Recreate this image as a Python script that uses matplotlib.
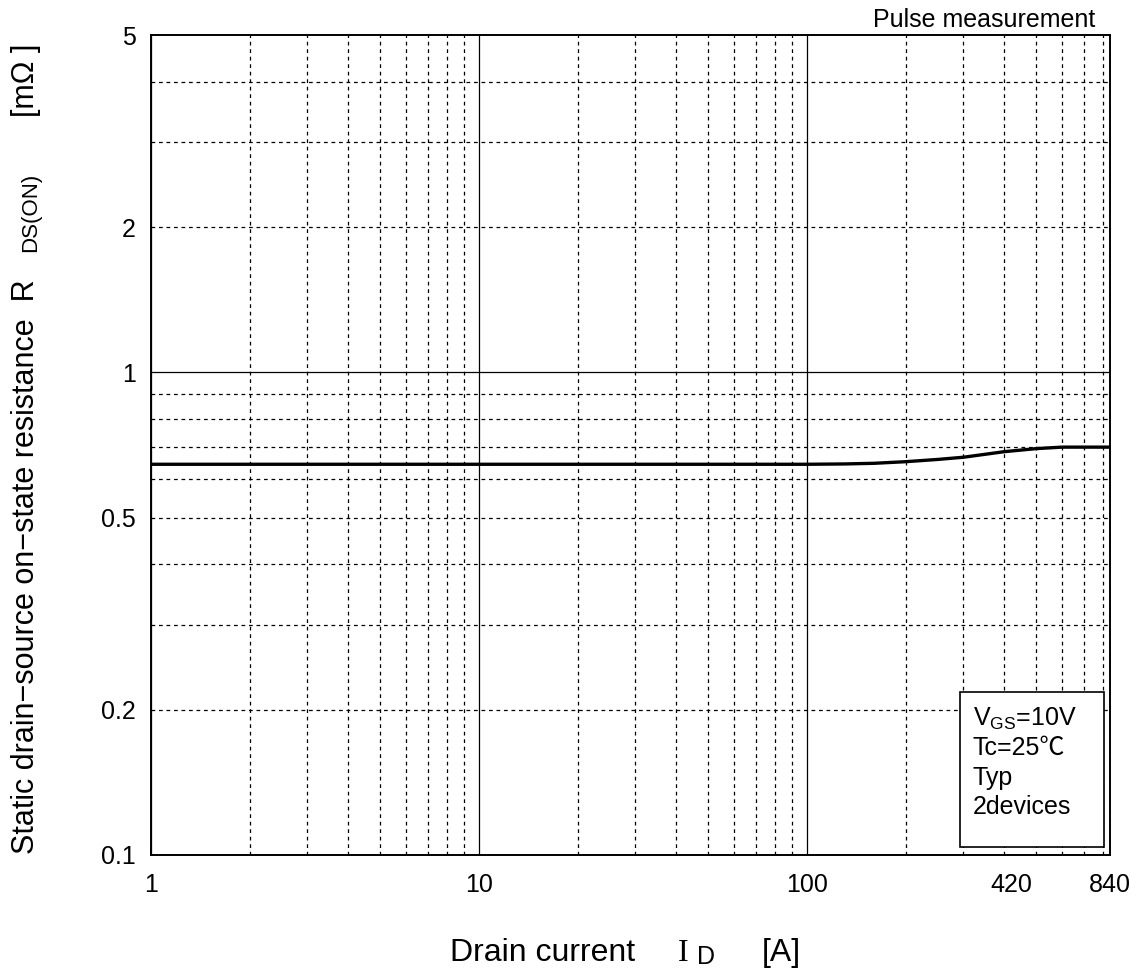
import numpy as np
import matplotlib
matplotlib.use("Agg")
import matplotlib.pyplot as plt
from matplotlib.patches import Rectangle

plt.rcParams['font.family'] = ['Liberation Sans', 'Noto Sans CJK JP', 'DejaVu Sans']
plt.rcParams['mathtext.default'] = 'regular'

# Drain current [A] and RDS(on) [mOhm]
drain_current = [1, 10, 100, 130, 160, 200, 250, 300, 400, 500, 600, 700, 840]
rds_on = [0.645, 0.645, 0.645, 0.646, 0.648, 0.653, 0.660, 0.667, 0.685, 0.695, 0.700, 0.700, 0.700]

x_ticks = [1, 10, 100, 420, 840]
x_tick_labels = ["1", "10", "100", "420", "840"]
y_ticks = [0.1, 0.2, 0.5, 1, 2, 5]
y_tick_labels = ["0.1", "0.2", "0.5", "1", "2", "5"]

fig = plt.figure(figsize=(11.37, 9.76), dpi=100)
ax = fig.add_axes([0.1328, 0.124, 0.8435, 0.8401])
ax.set_xscale("log")
ax.set_yscale("log")
ax.set_xlim(1, 840)
ax.set_ylim(0.1, 5)

# Grid: solid at decades, dashed in between
for dec in [1, 10, 100]:
    ax.axvline(dec, color="black", lw=0.9, zorder=1)
    for m in range(2, 10):
        if dec * m < 840:
            ax.axvline(dec * m, color="black", lw=0.9, ls=(0, (3, 3)), zorder=1)
for dec in [0.1, 1]:
    ax.axhline(dec, color="black", lw=0.9, zorder=1)
    for m in range(2, 10):
        if dec * m < 5:
            ax.axhline(dec * m, color="black", lw=0.9, ls=(0, (3, 3)), zorder=1)

ax.plot(drain_current, rds_on, color="black", lw=2.4, zorder=3)

ax.xaxis.set_major_locator(matplotlib.ticker.FixedLocator(x_ticks))
ax.xaxis.set_minor_locator(matplotlib.ticker.NullLocator())
ax.set_xticklabels(x_tick_labels)
ax.yaxis.set_major_locator(matplotlib.ticker.FixedLocator(y_ticks))
ax.yaxis.set_minor_locator(matplotlib.ticker.NullLocator())
ax.set_yticklabels(y_tick_labels)
ax.tick_params(axis="both", length=0, labelsize=18)
ax.tick_params(axis="x", pad=13)
ax.tick_params(axis="y", pad=11)
for s in ax.spines.values():
    s.set_linewidth(1.4)

# Condition box
ax.add_patch(Rectangle((0.8436, 0.01), 0.15, 0.189, transform=ax.transAxes,
                       facecolor="white", edgecolor="black", lw=1.2, zorder=4))
box_lines = ["V$_{GS}$=10V", "Tc=25℃", "Typ", "2devices"]
for i, line in enumerate(box_lines):
    ax.text(0.857, 0.166 - i * 0.036, line, transform=ax.transAxes,
            fontsize=18, va="center", ha="left", zorder=5)

fig.text(0.963, 0.980, "Pulse measurement", fontsize=18, ha="right", va="center")

# Axis labels
fig.text(0.396, 0.0235, "Drain current", fontsize=23, ha="left", va="center")
fig.text(0.596, 0.0235, "I", fontsize=23, ha="left", va="center",
         family=["Liberation Serif"])
fig.text(0.613, 0.019, "D", fontsize=18, ha="left", va="center")
fig.text(0.670, 0.0235, "[A]", fontsize=23, ha="left", va="center")

fig.text(0.023, 0.419, "Static drain−source on−state resistance  R", fontsize=22,
         rotation=90, ha="center", va="center")
fig.text(0.027, 0.782, "DS(ON)", fontsize=16, rotation=90, ha="center", va="center")
fig.text(0.023, 0.918, "[mΩ ]", fontsize=22, rotation=90, ha="center", va="center")

fig.savefig("out.png", dpi=100)
